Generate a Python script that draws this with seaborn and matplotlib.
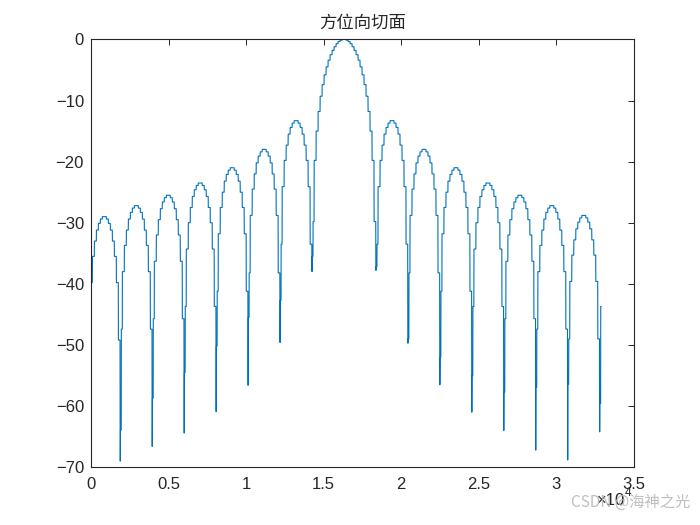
import numpy as np
import pandas as pd
import matplotlib
matplotlib.use("Agg")
import matplotlib.pyplot as plt
import seaborn as sns

# ---------------- data ----------------
# positions of the nulls (sample index)
null_x = [1890, 3952, 6014, 8076, 10138, 12200, 14262,
          18386, 20448, 22510, 24572, 26634, 28696, 30758, 32820]
first_edge = -172          # (virtual) null left of the first lobe
last_x = 32920             # last sample of the cut
# lobe peak levels (dB), left to right; main lobe = 0 dB
lobe_peak_db = [-29.0, -27.2, -25.5, -23.5, -21.0, -18.0, -13.3, 0.0,
                -13.3, -18.0, -21.0, -23.5, -25.5, -27.2, -28.8, -23.5]
# deepest sample in each null and the neighbouring shallower sample
null_deep_db = [-69.0, -66.6, -64.4, -60.9, -56.6, -49.6, -38.0,
                -37.8, -49.7, -56.5, -61.0, -64.0, -67.2, -68.8, -64.2]
null_shallow_db = [-63.9, -58.7, -54.5, -50.2, -45.5, -42.7, -35.5,
                   -37.2, -49.0, -52.0, -55.0, -57.7, -56.9, -56.4, -59.5]
# stair levels across one side lobe / the main lobe, relative to the lobe peak (dB)
sidelobe_step_db = [-20.2, -10.8, -6.5, -4.0, -2.2, -1.1, -0.4, 0.0,
                    0.0, -0.4, -1.1, -2.2, -4.0, -6.5, -10.8, -20.2]
mainlobe_step_db = [-29.8, -19.8, -15.0, -11.8, -9.3, -7.4, -5.8, -4.5,
                    -3.4, -2.5, -1.8, -1.2, -0.7, -0.35, -0.13, -0.01,
                    -0.01, -0.13, -0.35, -0.7, -1.2, -1.8, -2.5, -3.4,
                    -4.5, -5.8, -7.4, -9.3, -11.8, -15.0, -19.8, -29.8]
x_ticks = [0, 5000, 10000, 15000, 20000, 25000, 30000, 35000]
x_tick_labels = ["0", "0.5", "1", "1.5", "2", "2.5", "3", "3.5"]
y_ticks = [-70, -60, -50, -40, -30, -20, -10, 0]

# ---------------- build the sampled cut ----------------
x = np.arange(0, last_x + 1)
y = np.zeros_like(x, dtype=float)
edges = [first_edge] + null_x + [null_x[-1] + (null_x[-1] - null_x[-2])]
for k in range(len(edges) - 1):
    a, b = edges[k], edges[k + 1]
    prof = np.array(mainlobe_step_db if lobe_peak_db[k] == 0.0 else sidelobe_step_db)
    m = (x >= a) & (x < b)
    j = np.clip(((x[m] - a) / (b - a) * len(prof)).astype(int), 0, len(prof) - 1)
    y[m] = lobe_peak_db[k] + prof[j]
for nx, dd, sd in zip(null_x, null_deep_db, null_shallow_db):
    y[(x >= nx - 15) & (x < nx + 5)] = dd
    y[(x >= nx + 5) & (x < nx + 60)] = sd
df = pd.DataFrame({"x": x, "y": y})

# ---------------- plot ----------------
sns.set_style("white")
plt.rcParams["font.family"] = ["Liberation Sans", "DejaVu Sans"]
axc = "#262626"

fig = plt.figure(figsize=(7, 5.25), dpi=100)
ax = fig.add_axes([0.13, 0.11, 0.775, 0.815])
sns.lineplot(data=df, x="x", y="y", ax=ax, color="#0072BD", linewidth=0.8,
             estimator=None, sort=False)

ax.set_xlim(0, 35000)
ax.set_ylim(-70, 0)
ax.set_xticks(x_ticks)
ax.set_xticklabels(x_tick_labels)
ax.set_yticks(y_ticks)
ax.set_xlabel("")
ax.set_ylabel("")
for s in ax.spines.values():
    s.set_visible(True)
    s.set_color(axc)
    s.set_linewidth(0.8)
ax.tick_params(direction="in", length=4.5, width=0.7, colors=axc,
               top=True, right=True, labelsize=12)
ax.tick_params(axis="x", pad=7)
ax.tick_params(axis="y", pad=5)
ax.set_title("方位向切面", fontsize=12.5, color=axc, pad=8,
             family=["Noto Sans CJK SC", "DejaVu Sans"])

# MATLAB-style exponent label
fig.text(625 / 700, 1 - 505 / 525, "×10", ha="right", va="baseline",
         fontsize=12, color=axc)
fig.text(625 / 700, 1 - 496 / 525, "4", ha="left", va="baseline",
         fontsize=8.5, color=axc)
# watermark
fig.text(690 / 700, 1 - 507 / 525, "CSDN @海神之光", ha="right", va="baseline",
         fontsize=11, color="#b8b8b8", alpha=0.9,
         family=["Noto Sans CJK SC", "DejaVu Sans"])

fig.savefig("out.png", dpi=100)
